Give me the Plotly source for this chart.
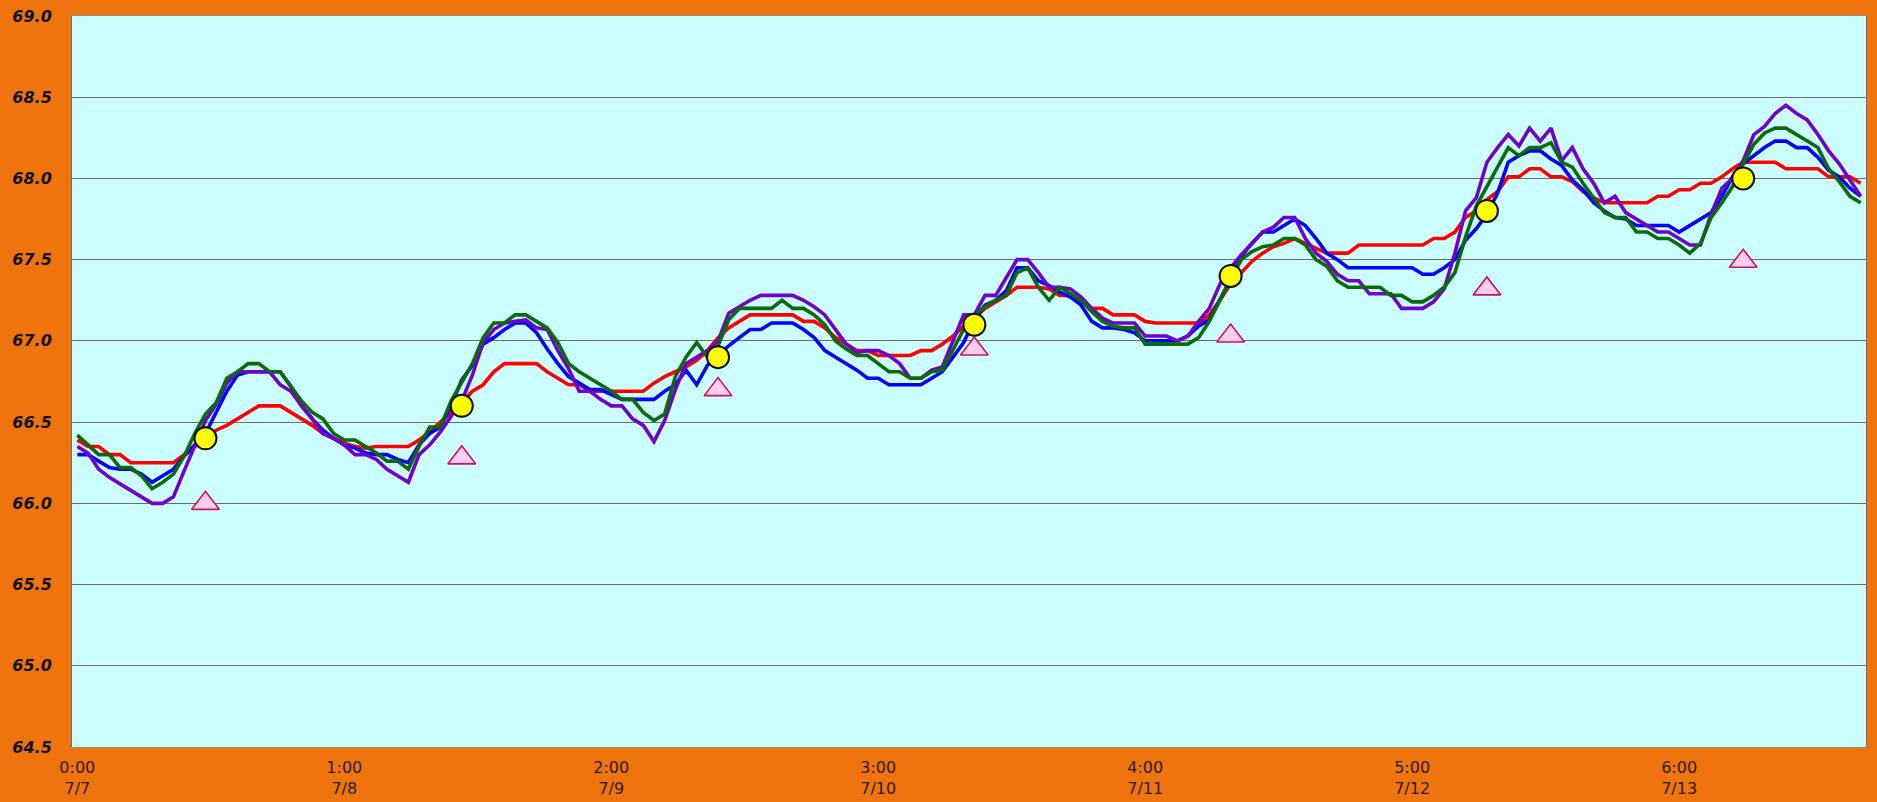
import plotly.graph_objects as go

# Hourly readings, 7/7 0:00 .. 7/13 23:00 (168 points)
red = [66.39, 66.35, 66.35, 66.30, 66.30, 66.25, 66.25, 66.25, 66.25, 66.25,
       66.30, 66.35, 66.40, 66.45, 66.48, 66.52, 66.56, 66.60, 66.60, 66.60,
       66.56, 66.52, 66.48, 66.43, 66.40, 66.37, 66.35, 66.34, 66.35, 66.35,
       66.35, 66.35, 66.39, 66.44, 66.50, 66.56, 66.62, 66.69, 66.73, 66.81,
       66.86, 66.86, 66.86, 66.86, 66.81, 66.77, 66.73, 66.73, 66.69, 66.69,
       66.69, 66.69, 66.69, 66.69, 66.74, 66.78, 66.81, 66.84, 66.88, 66.94,
       67.02, 67.08, 67.12, 67.16, 67.16, 67.16, 67.16, 67.16, 67.12, 67.12,
       67.08, 67.02, 66.98, 66.94, 66.94, 66.91, 66.91, 66.91, 66.91, 66.94,
       66.94, 66.98, 67.03, 67.09, 67.14, 67.20, 67.24, 67.28, 67.33, 67.33,
       67.33, 67.32, 67.28, 67.28, 67.24, 67.20, 67.20, 67.16, 67.16, 67.16,
       67.12, 67.11, 67.11, 67.11, 67.11, 67.11, 67.16, 67.25, 67.35, 67.42,
       67.49, 67.54, 67.58, 67.60, 67.63, 67.60, 67.57, 67.54, 67.54, 67.54,
       67.59, 67.59, 67.59, 67.59, 67.59, 67.59, 67.59, 67.63, 67.63, 67.67,
       67.76, 67.80, 67.87, 67.92, 68.01, 68.01, 68.06, 68.06, 68.01, 68.01,
       67.98, 67.92, 67.88, 67.85, 67.85, 67.85, 67.85, 67.85, 67.89, 67.89,
       67.93, 67.93, 67.97, 67.97, 68.01, 68.06, 68.10, 68.10, 68.10, 68.10,
       68.06, 68.06, 68.06, 68.06, 68.01, 68.01, 68.01, 67.97]

blue = [66.30, 66.30, 66.26, 66.22, 66.21, 66.21, 66.18, 66.13, 66.17, 66.21,
        66.29, 66.36, 66.43, 66.56, 66.69, 66.79, 66.81, 66.81, 66.81, 66.81,
        66.72, 66.60, 66.52, 66.45, 66.40, 66.36, 66.34, 66.31, 66.30, 66.30,
        66.27, 66.25, 66.36, 66.43, 66.47, 66.60, 66.76, 66.85, 66.98, 67.02,
        67.07, 67.11, 67.11, 67.05, 66.95, 66.86, 66.78, 66.74, 66.70, 66.70,
        66.67, 66.64, 66.64, 66.64, 66.64, 66.69, 66.73, 66.82, 66.73, 66.85,
        66.91, 66.97, 67.02, 67.07, 67.07, 67.11, 67.11, 67.11, 67.07, 67.02,
        66.94, 66.90, 66.86, 66.82, 66.77, 66.77, 66.73, 66.73, 66.73, 66.73,
        66.77, 66.81, 66.90, 66.99, 67.13, 67.22, 67.25, 67.31, 67.45, 67.45,
        67.37, 67.34, 67.30, 67.27, 67.22, 67.12, 67.08, 67.08, 67.07, 67.05,
        67.00, 67.00, 67.00, 67.00, 67.03, 67.09, 67.13, 67.25, 67.38, 67.52,
        67.60, 67.67, 67.67, 67.71, 67.75, 67.71, 67.63, 67.54, 67.50, 67.45,
        67.45, 67.45, 67.45, 67.45, 67.45, 67.45, 67.41, 67.41, 67.45, 67.50,
        67.62, 67.69, 67.78, 67.91, 68.10, 68.14, 68.17, 68.17, 68.12, 68.08,
        67.99, 67.93, 67.85, 67.80, 67.76, 67.75, 67.71, 67.71, 67.71, 67.71,
        67.67, 67.71, 67.75, 67.79, 67.89, 68.01, 68.09, 68.14, 68.19, 68.23,
        68.23, 68.19, 68.19, 68.13, 68.05, 68.01, 67.94, 67.89]

green = [66.42, 66.36, 66.30, 66.30, 66.22, 66.22, 66.17, 66.09, 66.13, 66.18,
         66.29, 66.43, 66.55, 66.62, 66.77, 66.81, 66.86, 66.86, 66.81, 66.81,
         66.72, 66.63, 66.56, 66.52, 66.43, 66.39, 66.39, 66.35, 66.31, 66.26,
         66.26, 66.21, 66.35, 66.47, 66.47, 66.63, 66.74, 66.86, 67.02, 67.11,
         67.11, 67.16, 67.16, 67.12, 67.08, 66.99, 66.86, 66.81, 66.77, 66.73,
         66.69, 66.64, 66.64, 66.56, 66.51, 66.55, 66.78, 66.90, 66.99, 66.90,
         66.97, 67.13, 67.20, 67.20, 67.20, 67.20, 67.25, 67.20, 67.20, 67.16,
         67.10, 67.00, 66.95, 66.91, 66.91, 66.86, 66.81, 66.81, 66.77, 66.77,
         66.81, 66.82, 66.94, 67.07, 67.16, 67.21, 67.25, 67.28, 67.42, 67.45,
         67.33, 67.25, 67.33, 67.29, 67.25, 67.18, 67.12, 67.09, 67.08, 67.08,
         66.98, 66.98, 66.98, 66.98, 66.98, 67.02, 67.12, 67.25, 67.37, 67.50,
         67.55, 67.58, 67.59, 67.63, 67.63, 67.59, 67.50, 67.46, 67.37, 67.33,
         67.33, 67.33, 67.33, 67.28, 67.28, 67.24, 67.24, 67.28, 67.33, 67.42,
         67.64, 67.83, 67.95, 68.08, 68.19, 68.14, 68.19, 68.19, 68.22, 68.10,
         68.07, 67.97, 67.88, 67.79, 67.76, 67.76, 67.67, 67.67, 67.63, 67.63,
         67.59, 67.54, 67.60, 67.76, 67.85, 67.95, 68.09, 68.21, 68.28, 68.31,
         68.31, 68.27, 68.23, 68.19, 68.06, 67.98, 67.89, 67.85]

purple = [66.35, 66.31, 66.21, 66.16, 66.12, 66.08, 66.04, 66.00, 66.00, 66.04,
          66.20, 66.36, 66.51, 66.61, 66.74, 66.81, 66.81, 66.81, 66.81, 66.73,
          66.69, 66.60, 66.52, 66.43, 66.40, 66.36, 66.30, 66.30, 66.27, 66.21,
          66.17, 66.13, 66.30, 66.36, 66.44, 66.54, 66.63, 66.79, 66.99, 67.07,
          67.11, 67.12, 67.13, 67.08, 67.07, 66.94, 66.83, 66.69, 66.69, 66.64,
          66.60, 66.60, 66.52, 66.48, 66.38, 66.51, 66.70, 66.86, 66.90, 66.94,
          67.00, 67.17, 67.21, 67.25, 67.28, 67.28, 67.28, 67.28, 67.25, 67.21,
          67.16, 67.07, 66.98, 66.93, 66.94, 66.94, 66.91, 66.86, 66.77, 66.77,
          66.82, 66.84, 67.00, 67.16, 67.16, 67.28, 67.28, 67.39, 67.50, 67.50,
          67.42, 67.33, 67.33, 67.32, 67.27, 67.20, 67.14, 67.11, 67.11, 67.11,
          67.03, 67.03, 67.03, 67.00, 67.03, 67.12, 67.20, 67.35, 67.45, 67.53,
          67.60, 67.67, 67.70, 67.76, 67.76, 67.63, 67.54, 67.49, 67.41, 67.37,
          67.37, 67.29, 67.29, 67.29, 67.20, 67.20, 67.20, 67.24, 67.32, 67.54,
          67.80, 67.88, 68.10, 68.19, 68.27, 68.20, 68.31, 68.23, 68.31, 68.11,
          68.19, 68.06, 67.97, 67.85, 67.89, 67.79, 67.75, 67.71, 67.67, 67.67,
          67.63, 67.59, 67.59, 67.78, 67.94, 68.00, 68.11, 68.27, 68.32, 68.40,
          68.45, 68.40, 68.36, 68.27, 68.17, 68.09, 67.99, 67.89]

# Daily noon markers (index 12, 36, ... 156)
noon_idx = [12, 36, 60, 84, 108, 132, 156]
circle_vals = [66.4, 66.6, 66.9, 67.1, 67.4, 67.8, 68.0]
triangle_vals = [66.0, 66.28, 66.7, 66.95, 67.03, 67.32, 67.49]

# Axis labels
tick_idx = [0, 25, 50, 75, 100, 125, 150]
tick_text = ["0:00<br>7/7", "1:00<br>7/8", "2:00<br>7/9", "3:00<br>7/10",
             "4:00<br>7/11", "5:00<br>7/12", "6:00<br>7/13"]
y_ticks = [64.5, 65.0, 65.5, 66.0, 66.5, 67.0, 67.5, 68.0, 68.5, 69.0]

x = list(range(len(red)))

fig = go.Figure()
series = [(red, "#FF0000"), (blue, "#0000FF"), (purple, "#7000CC"), (green, "#0B6B0B")]
for vals, col in series:
    fig.add_trace(go.Scatter(x=x, y=vals, mode="lines",
                             line=dict(color=col, width=3.6), hoverinfo="skip"))

fig.add_trace(go.Scatter(x=noon_idx, y=triangle_vals, mode="markers",
                         marker=dict(symbol="triangle-up", size=24, color="#FFCCF2",
                                     line=dict(color="#C8145A", width=1.6))))
fig.add_trace(go.Scatter(x=noon_idx, y=circle_vals, mode="markers",
                         marker=dict(symbol="circle", size=22, color="#FFFF00",
                                     line=dict(color="#111111", width=2))))

fig.update_layout(
    width=1877, height=802,
    paper_bgcolor="#F0740E",
    plot_bgcolor="#CCFFFF",
    margin=dict(l=72, r=11, t=16, b=55),
    showlegend=False,
    xaxis=dict(range=[-0.5, 167.5], tickvals=tick_idx, ticktext=tick_text,
               showgrid=False, zeroline=False, showline=True, mirror=True,
               linecolor="#8C8C8C", linewidth=1, ticks="", automargin=False,
               tickfont=dict(family="DejaVu Sans", size=16, color="#2A1A0A"),
               ticklabelstandoff=6),
    yaxis=dict(range=[64.5, 69.0], tickvals=y_ticks, automargin=False,
               tickformat=".1f", showgrid=True, gridcolor="#6E6E6E", gridwidth=1,
               zeroline=False, showline=True, mirror=True,
               linecolor="#6E6E6E", linewidth=1, ticks="",
               tickfont=dict(family="DejaVu Sans", size=16, color="#111111",
                             weight="bold", style="italic"),
               ticklabelstandoff=16),
)

fig.write_html("out.html", config={"displayModeBar": False},
               post_script="document.body.style.margin='0';document.body.style.overflow='hidden';")
